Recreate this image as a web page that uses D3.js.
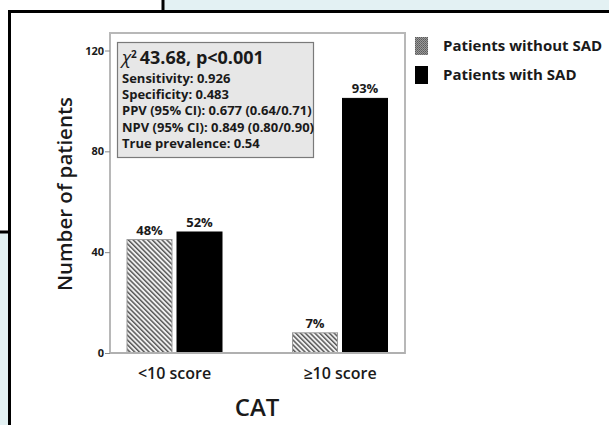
<!DOCTYPE html>
<html>
<head>
<meta charset="utf-8">
<script src="https://cdn.jsdelivr.net/npm/d3@7"></script>
<style>
  html, body { margin: 0; padding: 0; background: #fff; }
  svg { display: block; }
  text { font-family: "Open Sans", "DejaVu Sans", sans-serif; fill: #1a1a1a; }
</style>
</head>
<body>
<svg id="chart" width="609" height="425"></svg>
<script>
// Patient counts by CAT score group
const categories = ["<10 score", "\u226510 score"];
const seriesNames = ["Patients without SAD", "Patients with SAD"];
const withoutSAD = [45, 8];
const withSAD = [48, 101];
const percentLabels = [["48%", "52%"], ["7%", "93%"]];
const yTicks = [0, 40, 80, 120];
const statsTitle = "43.68, p<0.001";
const statsLines = [
  "Sensitivity: 0.926",
  "Specificity: 0.483",
  "PPV (95% CI): 0.677 (0.64/0.71)",
  "NPV (95% CI): 0.849 (0.80/0.90)",
  "True prevalence: 0.54"
];

const svg = d3.select("#chart");
const W = 609, H = 425;

// page backdrop: tinted strips and black panel edges
const tint = "#e3f1f3";
svg.append("rect").attr("x", 163).attr("y", 0).attr("width", W - 163).attr("height", 11).attr("fill", tint);
svg.append("rect").attr("x", 0).attr("y", 232).attr("width", 9).attr("height", H - 232).attr("fill", tint);
const edge = svg.append("g").attr("stroke", "#000").attr("stroke-width", 3).attr("fill", "none");
edge.append("line").attr("x1", 163).attr("y1", 0).attr("x2", 163).attr("y2", 11.5);
edge.append("line").attr("x1", 8).attr("y1", 11.5).attr("x2", W).attr("y2", 11.5);
edge.append("line").attr("x1", 9.5).attr("y1", 10).attr("x2", 9.5).attr("y2", H);
edge.append("line").attr("x1", 0).attr("y1", 232).attr("x2", 9).attr("y2", 232);

// fill patterns
const defs = svg.append("defs");
const hatch = defs.append("pattern")
  .attr("id", "hatch").attr("patternUnits", "userSpaceOnUse")
  .attr("width", 3.4).attr("height", 3.4)
  .attr("patternTransform", "rotate(45)");
hatch.append("rect").attr("width", 3.4).attr("height", 3.4).attr("fill", "#f4f4f4");
hatch.append("line").attr("x1", 0).attr("y1", 1).attr("x2", 3.4).attr("y2", 1)
  .attr("stroke", "#555").attr("stroke-width", 1.5);

const dots = defs.append("pattern")
  .attr("id", "dots").attr("patternUnits", "userSpaceOnUse")
  .attr("width", 2).attr("height", 2);
dots.append("rect").attr("width", 2).attr("height", 2).attr("fill", "#9a9a9a");
dots.append("rect").attr("width", 1).attr("height", 1).attr("fill", "#5a5a5a");
dots.append("rect").attr("x", 1).attr("y", 1).attr("width", 1).attr("height", 1).attr("fill", "#6a6a6a");

// plot area
const plot = { left: 110, right: 405, top: 33, bottom: 353 };

const y = d3.scaleLinear().domain([0, 120]).range([plot.bottom, 50.5]);
const x0 = d3.scaleBand().domain(categories).range([91.75, 422.75]);
const x1 = d3.scaleBand().domain(seriesNames).range([35.25, 130.25]).paddingInner(0.1);

// frame
svg.append("rect")
  .attr("x", plot.left).attr("y", plot.top)
  .attr("width", plot.right - plot.left).attr("height", plot.bottom - plot.top)
  .attr("fill", "none").attr("stroke", "#b8b8b8").attr("stroke-width", 2);

// y axis
const yAxis = svg.append("g")
  .attr("transform", `translate(${plot.left},0)`)
  .call(d3.axisLeft(y).tickValues(yTicks).tickSize(5).tickPadding(1));
yAxis.select(".domain").remove();
yAxis.selectAll(".tick line").attr("stroke", "#888");
yAxis.selectAll(".tick text")
  .style("font-family", "\"Open Sans\", sans-serif")
  .style("font-size", "11px").style("font-weight", "700").attr("fill", "#333");

// x axis labels
const xAxis = svg.append("g")
  .attr("transform", `translate(0,${plot.bottom})`)
  .call(d3.axisBottom(x0).tickSize(0).tickPadding(15));
xAxis.select(".domain").remove();
xAxis.selectAll(".tick text")
  .style("font-family", "\"Open Sans\", sans-serif")
  .style("font-size", "16px").style("font-weight", "600").attr("fill", "#1a1a1a");

// bars
const rows = categories.map((c, i) => ({
  cat: c,
  vals: [
    { s: seriesNames[0], v: withoutSAD[i], p: percentLabels[i][0] },
    { s: seriesNames[1], v: withSAD[i], p: percentLabels[i][1] }
  ]
}));

const groups = svg.append("g").selectAll("g").data(rows).join("g")
  .attr("transform", d => `translate(${x0(d.cat)},0)`);

groups.selectAll("rect").data(d => d.vals).join("rect")
  .attr("x", d => x1(d.s))
  .attr("y", d => y(d.v))
  .attr("width", x1.bandwidth())
  .attr("height", d => y(0) - y(d.v))
  .attr("fill", d => d.s === seriesNames[0] ? "url(#hatch)" : "#000")
  .attr("stroke", d => d.s === seriesNames[0] ? "#999" : "#000")
  .attr("stroke-width", 1);

groups.selectAll("text").data(d => d.vals).join("text")
  .attr("x", d => x1(d.s) + x1.bandwidth() / 2)
  .attr("y", d => y(d.v) - 5)
  .attr("text-anchor", "middle")
  .style("font-size", "13px").style("font-weight", "700")
  .text(d => d.p);

// redraw baseline over bar bottoms
svg.append("line")
  .attr("x1", plot.left).attr("x2", plot.right)
  .attr("y1", plot.bottom).attr("y2", plot.bottom)
  .attr("stroke", "#b0b0b0").attr("stroke-width", 2);

// axis titles
svg.append("text")
  .attr("transform", "translate(72,194) rotate(-90)")
  .attr("text-anchor", "middle")
  .style("font-size", "20.5px").style("font-weight", "600")
  .text("Number of patients");

svg.append("text")
  .attr("x", 257).attr("y", 416)
  .attr("text-anchor", "middle")
  .style("font-size", "24px").style("font-weight", "600")
  .text("CAT");

// statistics box
const box = svg.append("g");
box.append("rect")
  .attr("x", 117.5).attr("y", 42.5).attr("width", 196).attr("height", 115)
  .attr("fill", "#e7e7e7").attr("stroke", "#7a7a7a").attr("stroke-width", 1.2);
const t0 = box.append("text").attr("x", 122).attr("y", 64)
  .style("font-size", "18px").style("font-weight", "700");
t0.append("tspan").style("font-style", "italic").style("font-weight", "400").text("\u03C7");
t0.append("tspan").attr("dy", -6).style("font-size", "10px").text("2");
t0.append("tspan").attr("dy", 6).attr("dx", 3).text(statsTitle);
box.selectAll("text.stat").data(statsLines).join("text")
  .attr("class", "stat")
  .attr("x", 122).attr("y", (d, i) => 82.5 + i * 16.4)
  .style("font-size", "13px").style("font-weight", "700")
  .attr("fill", "#222")
  .text(d => d);

// legend
const legend = svg.append("g").selectAll("g").data(seriesNames).join("g")
  .attr("transform", (d, i) => `translate(415,${37 + i * 29})`);
legend.append("rect")
  .attr("width", 13).attr("height", 18)
  .attr("fill", (d, i) => i === 0 ? "url(#dots)" : "#000");
legend.append("text")
  .attr("x", 28).attr("y", 14)
  .style("font-size", "15px").style("font-weight", "700")
  .text(d => d);
</script>
</body>
</html>
